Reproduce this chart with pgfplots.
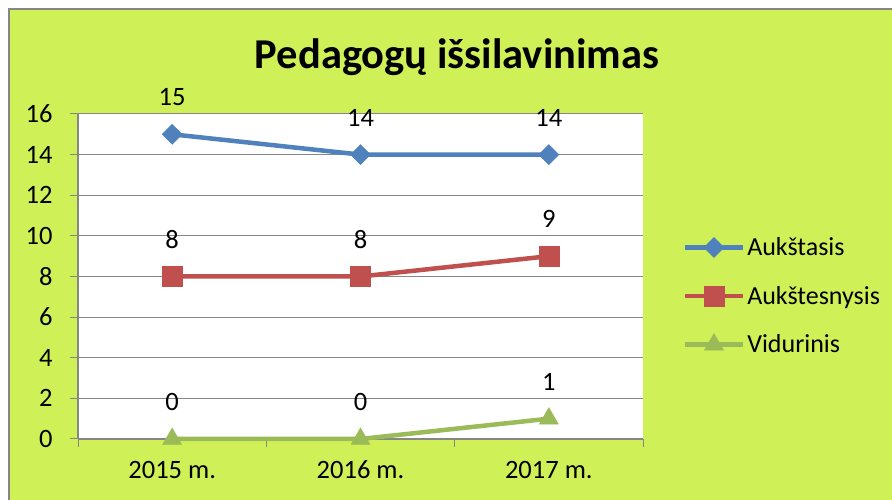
\documentclass[border=0pt]{standalone}
\usepackage{pgfplots}
\pgfplotsset{compat=1.18}
\usepackage{fontspec}
\setmainfont{Carlito}
\definecolor{bg}{HTML}{D0F058}
\definecolor{sblue}{HTML}{4F81BD}
\definecolor{sred}{HTML}{C0504D}
\definecolor{sgreen}{HTML}{9BBB59}
\definecolor{axgray}{HTML}{868686}
\begin{document}
\begin{tikzpicture}[x=1pt,y=1pt]
\useasboundingbox (0,0) rectangle (892,500);
\fill[white] (0,0) rectangle (892,500);
\fill[bg] (9,0) rectangle (892,491);
\draw[axgray, line width=1.3pt] (9,0) -- (9,491) -- (892,491);
\node[font=\fontsize{42.5}{48}\selectfont\bfseries] at (457,443) {Pedagogų išsilavinimas};
\begin{axis}[
  at={(78pt,61pt)}, anchor=south west, scale only axis,
  width=565pt, height=325pt,
  xmin=-0.5, xmax=2.5, ymin=0, ymax=16,
  ytick={0,2,...,16},
  xtick={0,1,2}, xticklabels={2015 m.,2016 m.,2017 m.},
  minor xtick={-0.5,0.5,1.5,2.5},
  major x tick style={draw=none},
  minor x tick style={axgray, line width=1pt},
  minor tick length=8pt,
  y tick style={axgray, line width=1pt},
  major tick length=8pt,
  tick align=outside,
  axis x line*=bottom, axis y line*=left,
  axis line style={axgray, line width=1.2pt, -},
  ymajorgrids, grid style={axgray, line width=1pt},
  axis background/.style={fill=white},
  tick label style={font=\fontsize{26.5}{32}\selectfont},
  /pgf/number format/assume math mode=true,
  yticklabel style={xshift=-14pt},
  xticklabel style={anchor=center, yshift=-23pt},
  clip=false,
  nodes near coords,
  every node near coord/.append style={font=\fontsize{26.5}{32}\selectfont, anchor=center, yshift=37pt, text=black},
  legend style={at={(1.07,0.44)}, anchor=west, draw=none, fill=none,
    font=\fontsize{26}{31}\selectfont, row sep=25pt, inner sep=0pt},
  legend cell align=left,
  legend image code/.code={\draw[mark repeat=2,mark phase=2] plot coordinates {(0pt,0pt) (29pt,0pt) (58pt,0pt)};},
]
\addplot[sblue, line width=4.5pt, mark=diamond*, mark size=10pt, mark options={line width=0.5pt, xscale=1.33}] coordinates {(0,15) (1,14) (2,14)};
\addlegendentry{Aukštasis}
\addplot[sred, line width=4.5pt, mark=square*, mark size=10pt, mark options={line width=0.5pt}] coordinates {(0,8) (1,8) (2,9)};
\addlegendentry{Aukštesnysis}
\addplot[sgreen, line width=4.5pt, mark=triangle*, mark size=11pt, mark options={line width=0.5pt}] coordinates {(0,0) (1,0) (2,1)};
\addlegendentry{Vidurinis}
\end{axis}
\end{tikzpicture}
\end{document}
